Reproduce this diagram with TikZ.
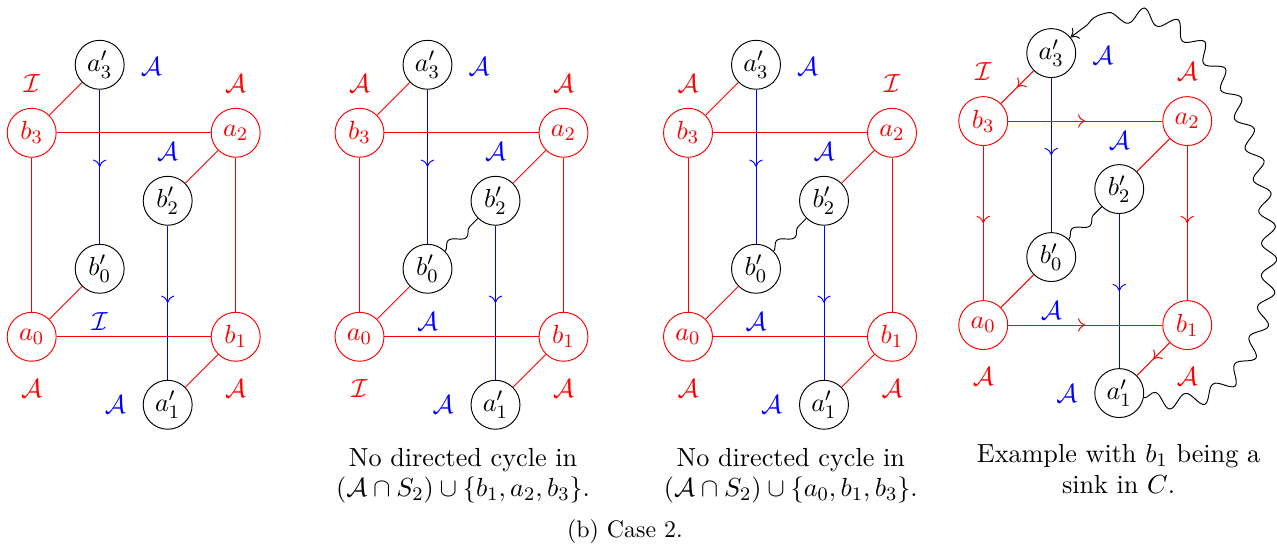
\documentclass[11pt,tikz,border=0pt]{standalone}
\usepackage{amsmath}
\usepackage{amssymb}
\usetikzlibrary{arrows.meta,decorations.pathmorphing,decorations.markings}

\begin{document}
\begin{tikzpicture}[
  vtx/.style={circle,draw,minimum size=0.72cm,inner sep=0pt},
  redvtx/.style={vtx,red},
  blkvtx/.style={vtx,black},
  midarrow/.style={postaction={decorate},decoration={markings,mark=at position 0.5 with {\arrow{To[length=3pt,width=5.6pt]}}}},
  wavy/.style={decorate,decoration={snake,amplitude=0.08cm,segment length=0.45cm}},
  captxt/.style={align=center,font=\fontsize{10.95}{12.7}\selectfont}
]
\useasboundingbox (0,0) rectangle (18.78,8.06);

% Vertices and labels of the four cubes
\foreach \p/\x/\y/\labB/\labA/\labE/\labC in {1/0.466/3.107/I/A/I/A, 2/5.287/3.107/A/A/A/I, 3/10.118/3.107/A/I/A/A, 4/14.46/3.279/I/A/A/A} {
  \begin{scope}[shift={(\x,\y)}]
    \node[redvtx] (a0-\p) at (0,0) {$a_0$};
    \node[redvtx] (b1-\p) at (3,0) {$b_1$};
    \node[redvtx] (a2-\p) at (3,3) {$a_2$};
    \node[redvtx] (b3-\p) at (0,3) {$b_3$};
    \node[blkvtx] (bp0-\p) at (1,1) {$b'_0$};
    \node[blkvtx] (ap1-\p) at (2,-1) {$a'_1$};
    \node[blkvtx] (bp2-\p) at (2,2) {$b'_2$};
    \node[blkvtx] (ap3-\p) at (1,4) {$a'_3$};
    \node[red] (lb3-\p) at (0,3.73) {$\mathcal{\labB}$};
    \node[red] (la2-\p) at (3,3.73) {$\mathcal{\labA}$};
    \node[red] (la0-\p) at (0,-0.76) {$\mathcal{\labC}$};
    \node[red] (lb1-\p) at (3,-0.76) {$\mathcal{A}$};
    \node[blue] (lap3-\p) at (1.76,3.97) {$\mathcal{A}$};
    \node[blue] (lmid-\p) at (2,2.72) {$\mathcal{A}$};
    \node[blue] (ledge-\p) at (1,0.22) {$\mathcal{\labE}$};
    \node[blue] (lap1-\p) at (1.23,-1) {$\mathcal{A}$};
  \end{scope}
}

% Edges, cases without orientation
\foreach \p in {1,2,3} {
  \draw[red] (b3-\p) -- (a2-\p) -- (b1-\p) -- (a0-\p) -- (b3-\p);
  \draw[red] (ap3-\p) -- (b3-\p);
  \draw[red] (a2-\p) -- (bp2-\p);
  \draw[red] (bp0-\p) -- (a0-\p);
  \draw[red] (b1-\p) -- (ap1-\p);
  \draw[blue,midarrow] (ap3-\p) -- (bp0-\p);
  \draw[blue,midarrow] (bp2-\p) -- (ap1-\p);
}

% Edges, example
\draw[red,midarrow] (b3-4) -- (a2-4);
\draw[red,midarrow] (b3-4) -- (a0-4);
\draw[red,midarrow] (a2-4) -- (b1-4);
\draw[red,midarrow] (a0-4) -- (b1-4);
\draw[red,midarrow] (ap3-4) -- (b3-4);
\draw[red,midarrow] (b1-4) -- (ap1-4);
\draw[red] (a2-4) -- (bp2-4);
\draw[red] (bp0-4) -- (a0-4);
\draw[blue,midarrow] (ap3-4) -- (bp0-4);
\draw[blue,midarrow] (bp2-4) -- (ap1-4);

% Wavy paths
\foreach \p in {2,3,4}
  \draw[wavy] (bp0-\p.north east) -- (bp2-\p.south west);
\draw[-{To[length=3pt,width=5.6pt]},decorate,decoration={snake,amplitude=0.11cm,segment length=0.48cm,post length=2mm}]
  (ap1-4) .. controls (19.99,1.60) and (18.3,9.6) .. (ap3-4);

% Captions
\node[captxt] (cap2) at (6.81,1.06) {No directed cycle in\\$(\mathcal{A}\cap S_2)\cup\{b_1,a_2,b_3\}$.};
\node[captxt] (cap3) at (11.63,1.06) {No directed cycle in\\$(\mathcal{A}\cap S_2)\cup\{a_0,b_1,b_3\}$.};
\node[captxt] (cap4) at (16.45,1.16) {Example with $b_1$ being a\\sink in $C$.};
\node[font=\small,anchor=base] (case) at (9.19,0.15) {(b) Case 2.};

\end{tikzpicture}
\end{document}
